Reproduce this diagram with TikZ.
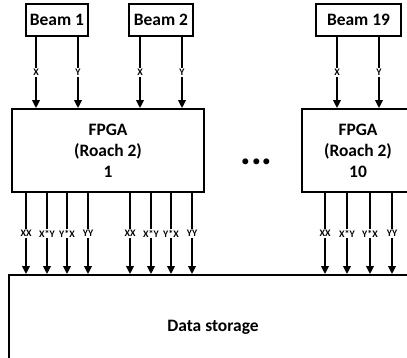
\documentclass[tikz,border=0pt]{standalone}
\usepackage{fontspec}
\setmainfont{Carlito}
\usetikzlibrary{arrows.meta}
\begin{document}
\begin{tikzpicture}[x=1bp,y=-1bp,
  box/.style={draw,line width=1.8bp,inner sep=0pt,font=\fontsize{17.5}{21}\selectfont\bfseries,align=center},
  arr/.style={line width=1.8bp,-{Triangle[length=8bp,width=7.5bp]}},
  lbl/.style={fill=white,inner sep=1bp,font=\fontsize{10}{11}\selectfont\bfseries}]
\useasboundingbox (0,0) rectangle (407,358);
\clip (0,0) rectangle (407,358);
\node[box,minimum width=62bp,minimum height=32bp] (b1) at (57,20) {Beam 1};
\node[box,minimum width=64bp,minimum height=32bp] (b2) at (161,20) {Beam 2};
\node[box,minimum width=85bp,minimum height=32bp] (b19) at (358.5,20) {Beam 19};
\node[box,minimum width=192bp,minimum height=83bp] (f1) at (108,150.5) {FPGA\\(Roach 2)\\1};
\node[box,minimum width=112bp,minimum height=83bp] (f10) at (358,150.5) {FPGA\\(Roach 2)\\10};
\node[box,minimum width=408bp,minimum height=104bp] (ds) at (213,327) {Data storage};
\node[font=\fontsize{40}{40}\selectfont\bfseries] (dots) at (256.5,161.5) {...};
% inputs
\draw[arr] ([xshift=-21bp]b1.south) -- ([xshift=-21bp]b1.south |- f1.north) node[midway,lbl]{X};
\draw[arr] ([xshift=21bp]b1.south) -- ([xshift=21bp]b1.south |- f1.north) node[midway,lbl]{Y};
\draw[arr] ([xshift=-21bp]b2.south) -- ([xshift=-21bp]b2.south |- f1.north) node[midway,lbl]{X};
\draw[arr] ([xshift=21bp]b2.south) -- ([xshift=21bp]b2.south |- f1.north) node[midway,lbl]{Y};
\draw[arr] ([xshift=-21.5bp]b19.south) -- ([xshift=-21.5bp]b19.south |- f10.north) node[midway,lbl]{X};
\draw[arr] ([xshift=20.5bp]b19.south) -- ([xshift=20.5bp]b19.south |- f10.north) node[midway,lbl]{Y};
% outputs FPGA 1
\foreach \dx/\t in {-82/XX,-61/X*Y,-41/Y*X,-20/YY,22/XX,43/X*Y,63/Y*X,84/YY}{
  \draw[arr] ([xshift=\dx bp]f1.south) -- ([xshift=\dx bp]f1.south |- ds.north) node[midway,lbl]{\t};
}
% outputs FPGA 10
\foreach \dx/\t in {-33/XX,-11/X*Y,12/Y*X,34/YY}{
  \draw[arr] ([xshift=\dx bp]f10.south) -- ([xshift=\dx bp]f10.south |- ds.north) node[midway,lbl]{\t};
}
\end{tikzpicture}
\end{document}
